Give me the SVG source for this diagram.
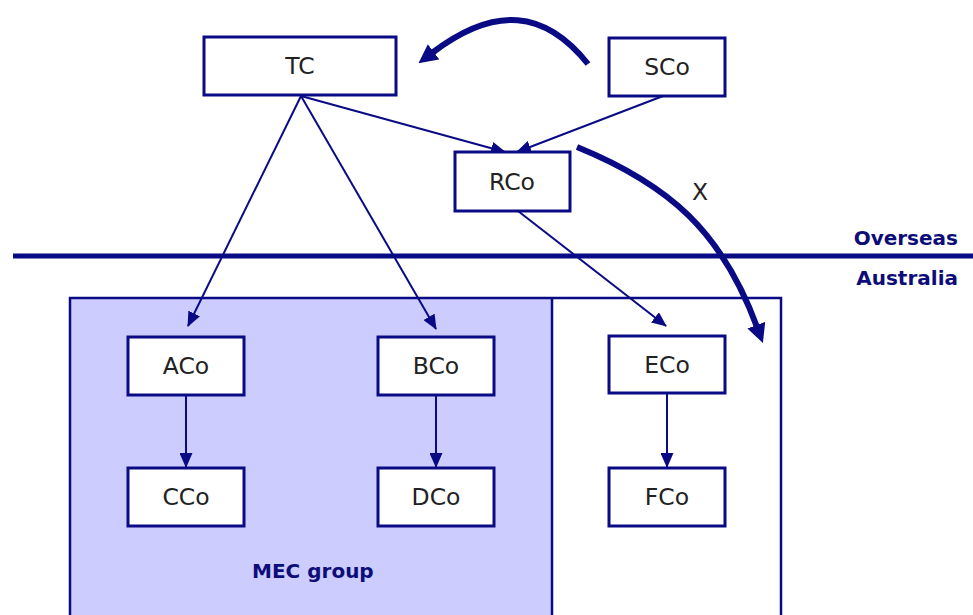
<svg xmlns="http://www.w3.org/2000/svg" width="973" height="615" viewBox="0 0 973 615">
<style>
.box{fill:#ffffff;stroke:#0a0a85;stroke-width:3}
.lbl{font-family:"DejaVu Sans","Liberation Sans",sans-serif;font-size:23.5px;fill:#222222;text-anchor:middle}
.thin{fill:none;stroke:#0a0a85;stroke-width:2}
.thick{fill:none;stroke:#0a0a85;stroke-width:6}
.region{font-family:"DejaVu Sans","Liberation Sans",sans-serif;font-size:20px;font-weight:bold;fill:#0d0d7a}
</style>
<defs>
<marker id="ah" viewBox="0 0 15 13" markerWidth="15" markerHeight="13" refX="14" refY="6.5" orient="auto" markerUnits="userSpaceOnUse">
<path d="M0,0 L15,6.5 L0,13 z" fill="#0a0a85"/>
</marker>
<marker id="ahb" viewBox="0 0 19 19" markerWidth="19" markerHeight="19" refX="2" refY="9.5" orient="auto" markerUnits="userSpaceOnUse">
<path d="M0,0 L19,9.5 L0,19 z" fill="#0a0a85"/>
</marker>
</defs>
<rect width="973" height="615" fill="#ffffff"/>

<g id="regions">
<rect x="70" y="298" width="482" height="330" fill="#ccccff" stroke="none"/>
<rect x="70" y="298" width="711" height="330" fill="none" stroke="#0a0a85" stroke-width="2.5"/>
<line x1="552" y1="298" x2="552" y2="615" stroke="#0a0a85" stroke-width="2.5"/>
<line x1="13" y1="256" x2="973" y2="256" stroke="#0a0a85" stroke-width="5"/>
<text class="region" x="958" y="245" text-anchor="end">Overseas</text>
<text class="region" x="958" y="285" text-anchor="end">Australia</text>
<text class="region" x="252" y="578" font-size="21">MEC group</text>
</g>

<g id="connectors">
<line class="thin" x1="301" y1="96" x2="188" y2="326" marker-end="url(#ah)"/>
<line class="thin" x1="301" y1="96" x2="436" y2="329" marker-end="url(#ah)"/>
<line class="thin" x1="301" y1="96" x2="505" y2="152" marker-end="url(#ah)"/>
<line class="thin" x1="663" y1="96" x2="517" y2="152" marker-end="url(#ah)"/>
<line class="thin" x1="518" y1="211" x2="666" y2="326" marker-end="url(#ah)"/>
<line class="thin" x1="186" y1="395" x2="186" y2="467" marker-end="url(#ah)"/>
<line class="thin" x1="436" y1="395" x2="436" y2="467" marker-end="url(#ah)"/>
<line class="thin" x1="667" y1="393" x2="667" y2="467" marker-end="url(#ah)"/>
<path class="thick" d="M588,64 C545,10 495,5 432,53" marker-end="url(#ahb)"/>
<path class="thick" d="M577,147 C670,185 722,232 757,327" marker-end="url(#ahb)"/>
<text class="lbl" x="700" y="200" font-size="21">X</text>
</g>

<g id="TC"><rect class="box" x="204" y="37" width="192" height="58"/><text class="lbl" x="300" y="74">TC</text></g>
<g id="SCo"><rect class="box" x="609" y="38" width="116" height="58"/><text class="lbl" x="667" y="75">SCo</text></g>
<g id="RCo"><rect class="box" x="455" y="152" width="115" height="59"/><text class="lbl" x="512" y="190">RCo</text></g>
<g id="ACo"><rect class="box" x="128" y="337" width="116" height="58"/><text class="lbl" x="186" y="374">ACo</text></g>
<g id="BCo"><rect class="box" x="378" y="337" width="116" height="58"/><text class="lbl" x="436" y="374">BCo</text></g>
<g id="ECo"><rect class="box" x="609" y="336" width="116" height="57"/><text class="lbl" x="667" y="373">ECo</text></g>
<g id="CCo"><rect class="box" x="128" y="468" width="116" height="58"/><text class="lbl" x="186" y="505">CCo</text></g>
<g id="DCo"><rect class="box" x="378" y="468" width="116" height="58"/><text class="lbl" x="436" y="505">DCo</text></g>
<g id="FCo"><rect class="box" x="609" y="468" width="116" height="58"/><text class="lbl" x="667" y="505">FCo</text></g>
</svg>
